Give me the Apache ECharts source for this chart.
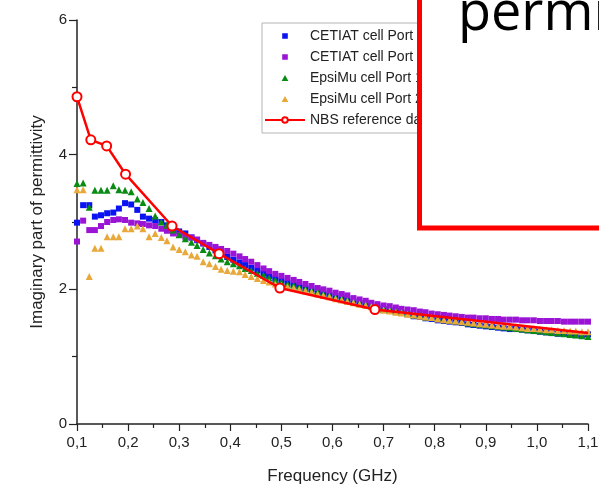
<!DOCTYPE html>
<html>
<head>
<meta charset="utf-8">
<script src="https://cdn.jsdelivr.net/npm/echarts@6/dist/echarts.min.js"></script>
<style>
  html, body { margin: 0; padding: 0; background: #fff; }
  #chart { width: 599px; height: 488px; }
</style>
</head>
<body>
<div id="chart"></div>
<script>
// frequency grid of the measured cells (GHz)
const freq = [
  0.100, 0.112, 0.124, 0.135, 0.147, 0.159, 0.171, 0.182, 0.194, 0.206,
  0.218, 0.229, 0.241, 0.253, 0.265, 0.276, 0.288, 0.300, 0.312, 0.324,
  0.335, 0.347, 0.359, 0.371, 0.382, 0.394, 0.406, 0.418, 0.429, 0.441,
  0.453, 0.465, 0.476, 0.488, 0.500, 0.512, 0.524, 0.535, 0.547, 0.559,
  0.571, 0.582, 0.594, 0.606, 0.618, 0.629, 0.641, 0.653, 0.665, 0.676,
  0.688, 0.700, 0.712, 0.724, 0.735, 0.747, 0.759, 0.771, 0.782, 0.794,
  0.806, 0.818, 0.829, 0.841, 0.853, 0.865, 0.876, 0.888, 0.900, 0.912,
  0.924, 0.935, 0.947, 0.959, 0.971, 0.982, 0.994, 1.006, 1.018, 1.029,
  1.041, 1.053, 1.065, 1.076, 1.088, 1.100
]

const cetiat1 = [
  2.99, 3.25, 3.25, 3.08, 3.10, 3.13, 3.14, 3.20, 3.28, 3.26,
  3.18, 3.08, 3.05, 3.03, 3.00, 2.95, 2.90, 2.86, 2.83, 2.77,
  2.73, 2.68, 2.63, 2.58, 2.53, 2.48, 2.44, 2.40, 2.36, 2.32,
  2.28, 2.24, 2.20, 2.16, 2.13, 2.10, 2.07, 2.05, 2.02, 2.00,
  1.97, 1.95, 1.92, 1.90, 1.87, 1.85, 1.82, 1.80, 1.78, 1.75,
  1.73, 1.71, 1.69, 1.67, 1.65, 1.63, 1.60, 1.59, 1.57, 1.56,
  1.54, 1.53, 1.52, 1.51, 1.50, 1.48, 1.47, 1.46, 1.45, 1.44,
  1.43, 1.42, 1.41, 1.41, 1.40, 1.39, 1.38, 1.37, 1.36, 1.35,
  1.34, 1.34, 1.33, 1.32, 1.32, 1.33
]

const cetiat2 = [
  2.71, 3.02, 2.88, 2.88, 2.94, 3.00, 3.03, 3.04, 3.03, 2.99,
  2.98, 2.97, 2.95, 2.94, 2.90, 2.87, 2.83, 2.81, 2.78, 2.77,
  2.74, 2.69, 2.66, 2.63, 2.60, 2.57, 2.53, 2.49, 2.45, 2.41,
  2.36, 2.31, 2.27, 2.23, 2.20, 2.17, 2.14, 2.11, 2.08, 2.05,
  2.02, 2.00, 1.98, 1.95, 1.93, 1.91, 1.87, 1.85, 1.83, 1.80,
  1.78, 1.76, 1.75, 1.73, 1.71, 1.70, 1.69, 1.67, 1.66, 1.64,
  1.63, 1.62, 1.61, 1.60, 1.59, 1.58, 1.58, 1.57, 1.57, 1.56,
  1.56, 1.55, 1.55, 1.55, 1.54, 1.54, 1.54, 1.53, 1.53, 1.53,
  1.53, 1.52, 1.52, 1.52, 1.52, 1.52
]

const epsimu1 = [
  3.57, 3.58, 3.22, 3.47, 3.47, 3.47, 3.54, 3.48, 3.47, 3.45,
  3.34, 3.29, 3.20, 3.09, 3.00, 2.95, 2.88, 2.81, 2.75, 2.70,
  2.65, 2.59, 2.54, 2.50, 2.45, 2.41, 2.38, 2.35, 2.31, 2.28,
  2.24, 2.21, 2.17, 2.14, 2.11, 2.08, 2.06, 2.03, 2.01, 1.98,
  1.96, 1.93, 1.91, 1.88, 1.86, 1.84, 1.81, 1.79, 1.77, 1.75,
  1.72, 1.70, 1.69, 1.67, 1.66, 1.64, 1.62, 1.61, 1.59, 1.58,
  1.57, 1.55, 1.54, 1.53, 1.52, 1.50, 1.49, 1.48, 1.47, 1.46,
  1.45, 1.44, 1.43, 1.42, 1.41, 1.40, 1.39, 1.38, 1.37, 1.36,
  1.35, 1.34, 1.33, 1.32, 1.31, 1.30
]

const epsimu2 = [
  3.48, 3.48, 2.19, 2.61, 2.61, 2.78, 2.78, 2.78, 2.90, 2.90,
  2.94, 2.90, 2.78, 2.83, 2.77, 2.72, 2.63, 2.59, 2.56, 2.51,
  2.49, 2.41, 2.38, 2.34, 2.30, 2.28, 2.27, 2.26, 2.22, 2.19,
  2.16, 2.13, 2.11, 2.08, 2.06, 2.04, 2.02, 2.00, 1.98, 1.96,
  1.93, 1.91, 1.89, 1.86, 1.84, 1.82, 1.80, 1.78, 1.76, 1.74,
  1.71, 1.69, 1.68, 1.66, 1.65, 1.63, 1.62, 1.60, 1.59, 1.58,
  1.56, 1.55, 1.54, 1.53, 1.52, 1.51, 1.50, 1.49, 1.48, 1.47,
  1.46, 1.45, 1.45, 1.44, 1.43, 1.42, 1.42, 1.41, 1.40, 1.40,
  1.39, 1.39, 1.38, 1.38, 1.37, 1.37
]

// NBS reference points
const nbsFreq = [0.100, 0.127, 0.158, 0.195, 0.286, 0.378, 0.497, 0.683, 1.100]
const nbsVals = [4.86, 4.22, 4.13, 3.71, 2.94, 2.53, 2.02, 1.70, 1.35]

const seriesNames = [
  'CETIAT cell Port 1',
  'CETIAT cell Port 2',
  'EpsiMu cell Port 1',
  'EpsiMu cell Port 2',
  'NBS reference data'
]

const xTicks = { min: 0.1, max: 1.1, step: 0.1 }
const yTicks = { min: 0, max: 6, step: 2 }

const font = '"Liberation Sans", Arial, sans-serif'
const axisColor = '#222'

// legend icons: small marker centred in the 40x7 icon box (tiny corner specks fix the box)
const boxCorners = 'M0,0L0.05,0L0,0.05Z M40,7L39.95,7L40,6.95Z '
const squareIcon = 'path://' + boxCorners + 'M17.2,0.7H22.8V6.3H17.2Z'
const triangleIcon = 'path://' + boxCorners + 'M20,0.4L23.4,6.4H16.6Z'

const toPairs = vals => vals.map((v, i) => [freq[i], v])

const scatter = (name, vals, symbol, size, color) => ({
  name,
  type: 'scatter',
  data: toPairs(vals),
  symbol,
  symbolSize: size,
  itemStyle: { color, opacity: 1 },
  emphasis: { disabled: true }
})

const nbsData = nbsFreq.map((f, i) => {
  const item = { value: [f, nbsVals[i]] }
  if (i === nbsFreq.length - 1) item.symbol = 'none'
  return item
})

const chart = echarts.init(document.getElementById('chart'))

chart.setOption({
  animation: false,
  grid: { left: 77, right: 11, top: 20, bottom: 64, outerBoundsMode: 'none' },
  legend: {
    orient: 'vertical',
    left: 262,
    top: 23,
    itemWidth: 40,
    itemHeight: 7,
    itemGap: 5,
    padding: [5, 200, 5, 2],
    borderColor: '#b4b4b4',
    borderWidth: 1,
    selectedMode: false,
    textStyle: { fontSize: 14, color: '#222', fontFamily: font, lineHeight: 16 },
    data: [
      { name: seriesNames[0], icon: squareIcon },
      { name: seriesNames[1], icon: squareIcon },
      { name: seriesNames[2], icon: triangleIcon },
      { name: seriesNames[3], icon: triangleIcon },
      { name: seriesNames[4] }
    ]
  },
  xAxis: {
    type: 'value',
    min: xTicks.min,
    max: xTicks.max,
    interval: xTicks.step,
    name: 'Frequency (GHz)',
    nameLocation: 'middle',
    nameGap: 44,
    nameTextStyle: { fontSize: 17, color: axisColor, fontFamily: font },
    axisLine: { onZero: false, lineStyle: { color: axisColor, width: 1.5 } },
    axisTick: { length: 7, lineStyle: { color: axisColor, width: 1.2 } },
    minorTick: { show: true, splitNumber: 2, length: 4, lineStyle: { color: axisColor, width: 1.2 } },
    splitLine: { show: false },
    axisLabel: {
      fontSize: 15,
      color: axisColor,
      fontFamily: font,
      margin: 11,
      formatter: v => v.toFixed(1).replace('.', ',')
    }
  },
  yAxis: {
    type: 'value',
    min: yTicks.min,
    max: yTicks.max,
    interval: yTicks.step,
    name: 'Imaginary part of permittivity',
    nameLocation: 'middle',
    nameGap: 31,
    nameTextStyle: { fontSize: 17, color: axisColor, fontFamily: font },
    axisLine: { lineStyle: { color: axisColor, width: 1.5 } },
    axisTick: { length: 8, lineStyle: { color: axisColor, width: 1.2 } },
    minorTick: { show: true, splitNumber: 2, length: 5, lineStyle: { color: axisColor, width: 1.2 } },
    splitLine: { show: false },
    axisLabel: { fontSize: 15, color: axisColor, fontFamily: font, margin: 10 }
  },
  series: [
    scatter(seriesNames[0], cetiat1, 'rect', 6, '#0a14f0'),
    scatter(seriesNames[1], cetiat2, 'rect', 6, '#9b14d6'),
    scatter(seriesNames[2], epsimu1, 'triangle', 7, '#0a8c14'),
    scatter(seriesNames[3], epsimu2, 'triangle', 7, '#e9a93a'),
    {
      name: seriesNames[4],
      type: 'line',
      data: nbsData,
      symbol: 'emptyCircle',
      symbolSize: 9,
      lineStyle: { color: '#ff0000', width: 2.5 },
      itemStyle: { color: '#ff0000', borderWidth: 3 },
      emphasis: { disabled: true },
      z: 5
    }
  ],
  graphic: [
    {
      type: 'rect',
      z: 100,
      shape: { x: 419.5, y: -20, width: 300, height: 248 },
      style: { fill: '#fff', stroke: '#ff0000', lineWidth: 5 }
    },
    {
      type: 'text',
      z: 101,
      x: 458,
      y: 15,
      style: {
        text: 'permittivity',
        fontSize: 54,
        fontFamily: '"Open Sans", sans-serif',
        fill: '#000',
        verticalAlign: 'middle'
      }
    }
  ]
})
</script>
</body>
</html>
